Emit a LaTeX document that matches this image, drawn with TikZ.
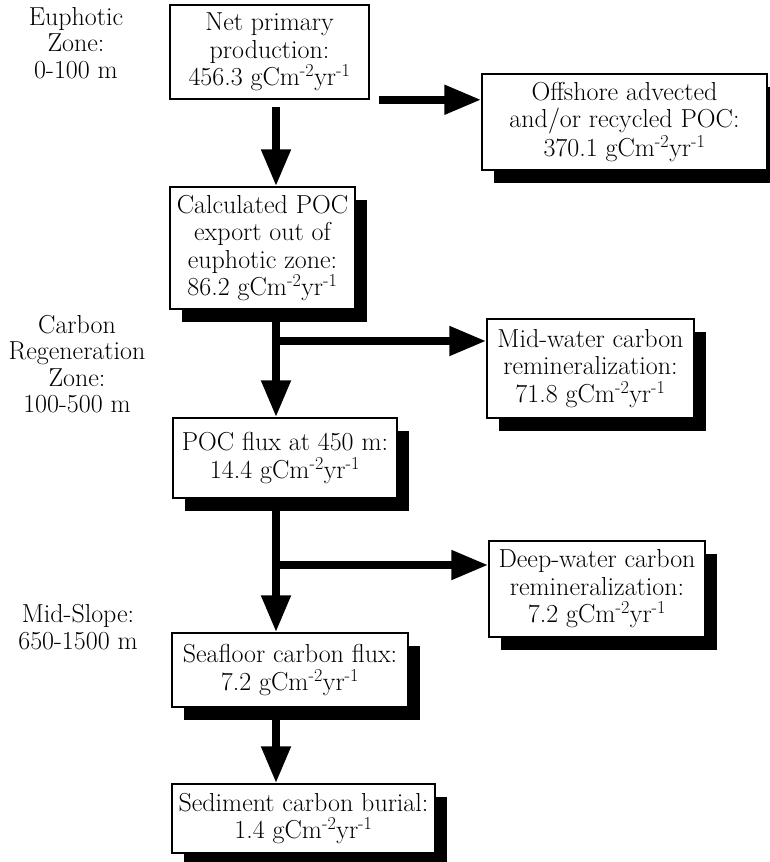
\documentclass[tikz,border=0pt]{standalone}
\usetikzlibrary{arrows.meta,shadows}

\begin{document}
\begin{tikzpicture}[x=1pt,y=-1pt]

      \useasboundingbox (0,0) rectangle (769,862);

      \begin{scope}[every node/.style={align=center,inner sep=0pt,font=\fontsize{26}{26.5}\selectfont}]
        \node (euphotic) at (76,43)  {Euphotic\\Zone:\\0-100 m};
        \node (regen)    at (77,364) {Carbon\\Regeneration\\Zone:\\100-500 m};
        \node (slope)    at (78,627) {Mid-Slope:\\650-1500 m};
      \end{scope}

      \coordinate (axis) at (276,0);
      \coordinate (j1)   at (276,341);
      \coordinate (j2)   at (276,565);

      \begin{scope}[every node/.style={draw,fill=white,line width=1.5pt,align=center,inner sep=0pt,font=\fontsize{26}{27.5}\selectfont}]
        \node[minimum width=199pt,minimum height=94pt] (1) at (269.5,52)
          {Net primary\\production:\\456.3 gCm\textsuperscript{-2}yr\textsuperscript{-1}};

        \begin{scope}[every node/.append style={drop shadow={shadow xshift=12pt,shadow yshift=-13pt,fill=black,opacity=1}}]
          \node[minimum width=285pt,minimum height=96pt]  (2) at (624.5,122)
            {Offshore advected\\and/or recycled POC:\\370.1 gCm\textsuperscript{-2}yr\textsuperscript{-1}};
          \node[minimum width=185pt,minimum height=122pt] (3) at (262.5,248)
            {Calculated POC\\export out of\\euphotic zone:\\86.2 gCm\textsuperscript{-2}yr\textsuperscript{-1}};
          \node[minimum width=207pt,minimum height=99pt]  (4) at (590.5,368.5)
            {Mid-water carbon\\remineralization:\\71.8 gCm\textsuperscript{-2}yr\textsuperscript{-1}};
          \node[minimum width=224pt,minimum height=80pt]  (5) at (285,458)
            {POC flux at 450 m:\\14.4 gCm\textsuperscript{-2}yr\textsuperscript{-1}};
          \node[minimum width=216pt,minimum height=96pt]  (6) at (597,589)
            {Deep-water carbon\\remineralization:\\7.2 gCm\textsuperscript{-2}yr\textsuperscript{-1}};
          \node[minimum width=236pt,minimum height=74pt]  (7) at (290,670)
            {Seafloor carbon flux:\\7.2 gCm\textsuperscript{-2}yr\textsuperscript{-1}};
          \node[minimum width=263pt,minimum height=69pt]  (8) at (303.5,818.5)
            {Sediment carbon burial:\\1.4 gCm\textsuperscript{-2}yr\textsuperscript{-1}};
        \end{scope}
      \end{scope}

      \begin{scope}[every edge/.style={draw,line width=8pt,-{Triangle[length=37pt,width=28pt]}}]
        \path (1.south -| axis) edge[shorten <=7pt] (3.north -| axis);
        \path ([xshift=9pt]1.south east) edge (1.south east -| 2.west);
        \path (3.south -| axis) edge (5.north -| axis);
        \path (j1) edge (j1 -| 4.west);
        \path (5.south -| axis) edge (7.north -| axis);
        \path (j2) edge (j2 -| 6.west);
        \path (7.south -| axis) edge (8.north -| axis);
      \end{scope}

    \end{tikzpicture}
\end{document}
